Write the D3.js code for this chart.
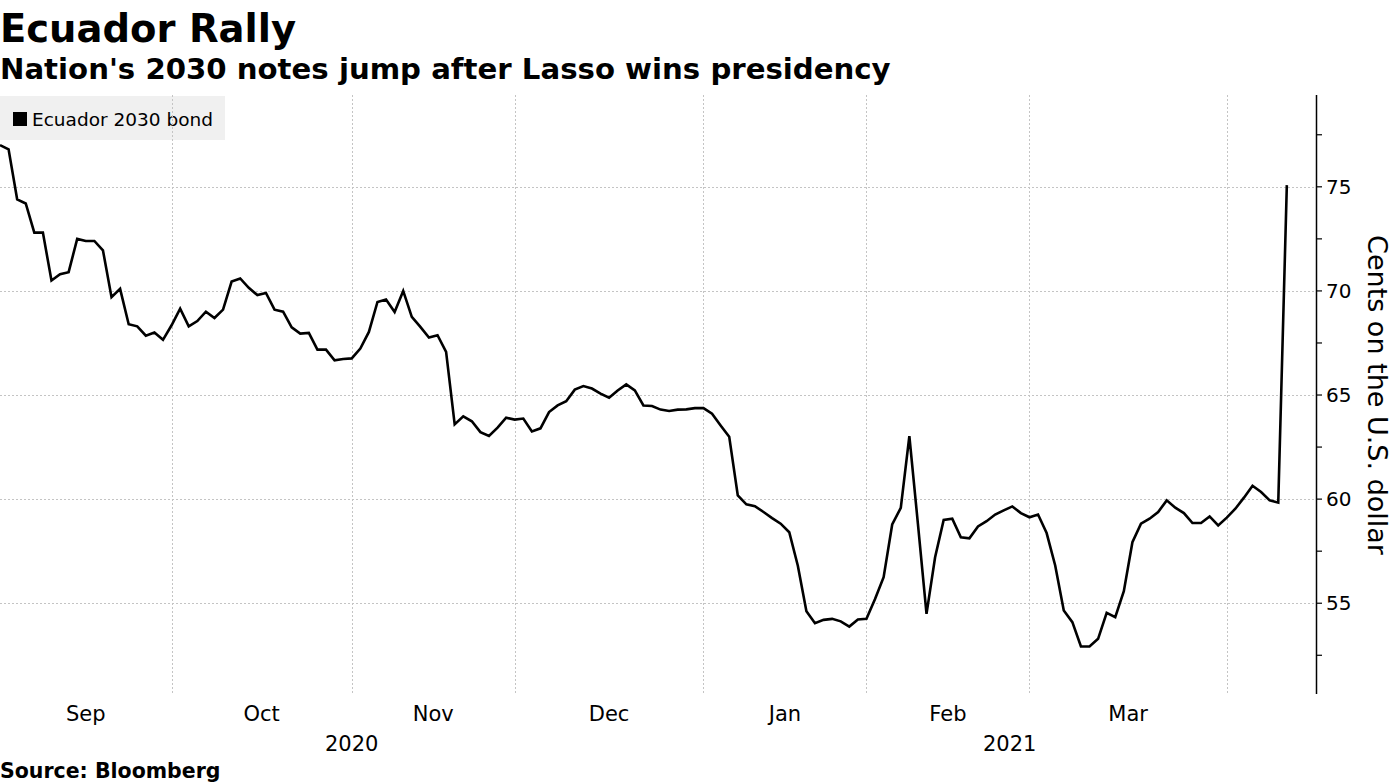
<!DOCTYPE html>
<html>
<head>
<meta charset="utf-8">
<script src="https://cdn.jsdelivr.net/npm/d3@7"></script>
<style>
  html, body { margin: 0; padding: 0; background: #fff; }
  svg { display: block; }
  text { font-family: "DejaVu Sans", sans-serif; fill: #000; }
</style>
</head>
<body>
<svg id="chart" width="1395" height="784"></svg>
<script>
// ---- data (trading-day index series) ----
const seriesName = "Ecuador 2030 bond";
const values = [
  77.0, 76.8, 74.4, 74.2, 72.8, 72.8, 70.5, 70.8, 70.9, 72.5,
  72.4, 72.4, 71.95, 69.7, 70.1, 68.4, 68.3, 67.85, 68.0, 67.65,
  68.35, 69.15, 68.3, 68.55, 69.0, 68.7, 69.1, 70.45, 70.6, 70.15,
  69.8, 69.9, 69.1, 69.0, 68.25, 67.95, 67.98, 67.18, 67.18, 66.67,
  66.73, 66.76, 67.23, 68.03, 69.47, 69.59, 68.99, 70.0, 68.75, 68.27,
  67.76, 67.87, 67.07, 63.59, 63.98, 63.74, 63.22, 63.03, 63.43, 63.91,
  63.82, 63.87, 63.25, 63.4, 64.18, 64.5, 64.7, 65.26, 65.43, 65.31,
  65.07, 64.87, 65.22, 65.51, 65.22, 64.5, 64.47, 64.3, 64.23, 64.3,
  64.31, 64.37, 64.37, 64.1, 63.54, 63.0, 60.18, 59.75, 59.66, 59.38,
  59.09, 58.82, 58.41, 56.8, 54.62, 54.04, 54.2, 54.25, 54.13, 53.88,
  54.22, 54.25, 55.2, 56.25, 58.78, 59.58, 63.03, 58.8, 54.49, 57.21,
  59.0, 59.06, 58.17, 58.12, 58.69, 58.94, 59.26, 59.46, 59.65, 59.33,
  59.13, 59.26, 58.37, 56.81, 54.65, 54.09, 52.92, 52.92, 53.29, 54.54,
  54.33, 55.58, 57.93, 58.82, 59.06, 59.38, 59.94, 59.59, 59.33, 58.85,
  58.85, 59.17, 58.74, 59.11, 59.54, 60.07, 60.64, 60.34, 59.94, 59.83,
  75.08
];
// first trading-day index of each month
const monthStarts = [0, 20, 41, 60, 82, 101, 120, 143];
const monthLabels = ["Sep", "Oct", "Nov", "Dec", "Jan", "Feb", "Mar", ""];
const yearLabels = ["2020", "2021"];
const yearStartMonth = [0, 4];   // month index where each year begins
const yTicksMajor = [55, 60, 65, 70, 75];
const yTicksMinor = [52.5, 55, 57.5, 60, 62.5, 65, 67.5, 70, 72.5, 75, 77.5];

// ---- layout ----
const plot = { left: 0, right: 1316, top: 95, bottom: 694 };
const svg = d3.select("#chart");

const x = d3.scaleLinear().domain([0, 153.4]).range([plot.left, plot.right]);
const y = d3.scaleLinear().domain([50.64, 79.41]).range([plot.bottom, plot.top]);

// titles
svg.append("text").attr("x", 0).attr("y", 42)
  .style("font-size", "38.5px").style("font-weight", "bold").text("Ecuador Rally");
svg.append("text").attr("x", 0).attr("y", 79)
  .style("font-size", "29.2px").style("font-weight", "bold")
  .text("Nation's 2030 notes jump after Lasso wins presidency");

// legend box
const lg = svg.append("g");
lg.append("rect").attr("x", 0).attr("y", 96).attr("width", 225).attr("height", 44).attr("fill", "#f0f0f0");
lg.append("rect").attr("x", 13).attr("y", 112).attr("width", 14).attr("height", 14).attr("fill", "#000");
lg.append("text").attr("x", 32).attr("y", 126).style("font-size", "18.5px").text(seriesName);

// grid
const grid = svg.append("g").attr("stroke", "#c4c4c4").attr("stroke-width", 1).attr("stroke-dasharray", "2,2");
grid.selectAll("line.h").data(yTicksMajor).join("line")
  .attr("x1", plot.left).attr("x2", plot.right)
  .attr("y1", d => Math.round(y(d)) + 0.5).attr("y2", d => Math.round(y(d)) + 0.5);
grid.selectAll("line.v").data(monthStarts.slice(1)).join("line")
  .attr("x1", d => Math.round(x(d)) + 0.5).attr("x2", d => Math.round(x(d)) + 0.5)
  .attr("y1", plot.top).attr("y2", plot.bottom);

// line
const line = d3.line().x((d, i) => x(i)).y(d => y(d));
svg.append("path").datum(values).attr("d", line)
  .attr("fill", "none").attr("stroke", "#000").attr("stroke-width", 2.6)
  .attr("stroke-linejoin", "miter").attr("stroke-miterlimit", 3);

// right axis
const yAxisG = svg.append("g").attr("transform", `translate(${plot.right},0)`);
yAxisG.append("line").attr("x1", 0.5).attr("x2", 0.5).attr("y1", plot.top).attr("y2", plot.bottom)
  .attr("stroke", "#000").attr("stroke-width", 1.5);
yAxisG.selectAll("line.t").data(yTicksMinor).join("line")
  .attr("x1", 0).attr("x2", 6)
  .attr("y1", d => y(d)).attr("y2", d => y(d))
  .attr("stroke", "#000").attr("stroke-width", 1.2);
yAxisG.selectAll("text.t").data(yTicksMajor).join("text")
  .attr("x", 10).attr("y", d => y(d)).attr("dy", "0.36em")
  .style("font-size", "20px").text(d => d);
svg.append("text")
  .attr("transform", `translate(1368, 395) rotate(90)`)
  .attr("text-anchor", "middle")
  .style("font-size", "27px").text("Cents on the U.S. dollar");

// x axis labels (centered within months)
const monthCenters = monthLabels.map((m, i) => {
  const a = monthStarts[i];
  const b = i + 1 < monthStarts.length ? monthStarts[i + 1] : x.domain()[1];
  return { label: m, cx: (x(a) + x(b)) / 2 };
}).filter(d => d.label);
svg.selectAll("text.month").data(monthCenters).join("text")
  .attr("x", d => d.cx).attr("y", 721).attr("text-anchor", "middle")
  .style("font-size", "21px").text(d => d.label);

const yearCenters = yearLabels.map((yl, i) => {
  const a = monthStarts[yearStartMonth[i]];
  const b = i + 1 < yearLabels.length ? monthStarts[yearStartMonth[i + 1]] : x.domain()[1];
  return { label: yl, cx: (x(a) + x(b)) / 2 };
});
svg.selectAll("text.year").data(yearCenters).join("text")
  .attr("x", d => d.cx).attr("y", 751).attr("text-anchor", "middle")
  .style("font-size", "21px").text(d => d.label);

svg.append("text").attr("x", 0).attr("y", 778)
  .style("font-size", "20.5px").style("font-weight", "bold").text("Source: Bloomberg");
</script>
</body>
</html>
